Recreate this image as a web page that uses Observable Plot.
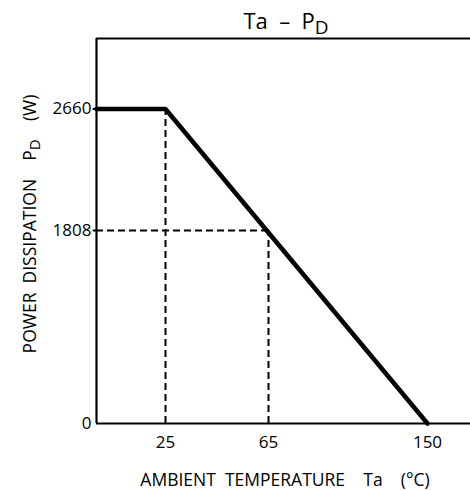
<!DOCTYPE html>
<html>
<head>
<meta charset="utf-8">
<script src="https://cdn.jsdelivr.net/npm/d3@7"></script>
<script src="https://cdn.jsdelivr.net/npm/@observablehq/plot@0.6"></script>
<style>
  html, body { margin: 0; padding: 0; background: #fff; }
  svg text { font-family: "Open Sans", "DejaVu Sans", sans-serif; }
</style>
</head>
<body>
<div id="chart"></div>
<script>
// Data
const xTicks = [25, 65, 150];
const yTicks = [0, 1808, 2660];
const curveTa = [0, 25, 150];
const curvePd = [2660, 2660, 0];
const refTa = [25, 65];
const refPd = [2660, 1808];
const xDomainEdges = [0, 175];
const yDomainTop = 3200;

const curve = curveTa.map((t, i) => ({t, p: curvePd[i]}));

const plot = Plot.plot({
  width: 470,
  height: 491,
  marginLeft: 96, marginTop: 38, marginRight: 0, marginBottom: 68,
  style: {fontFamily: '"Open Sans", "DejaVu Sans", sans-serif', fontSize: "17px", color: "#000"},
  x: {type: "linear", domain: [xDomainEdges[0], 25, 65, 150, xDomainEdges[1]], range: [96, 165, 268, 427, 470], axis: null},
  y: {type: "linear", domain: [0, 1808, 2660, yDomainTop], range: [423, 230, 108.5, 38], axis: null},
  marks: [
    // dashed reference lines
    Plot.ruleX(refTa, {x: d => d, y1: 0, y2: (d, i) => refPd[i], stroke: "#000", strokeWidth: 2, strokeDasharray: "7,4"}),
    Plot.ruleY([refPd[1]], {y: d => d, x1: xDomainEdges[0], x2: refTa[1], stroke: "#000", strokeWidth: 2, strokeDasharray: "7,4"}),
    // frame
    Plot.ruleY([0], {x1: xDomainEdges[0], x2: xDomainEdges[1], stroke: "#000", strokeWidth: 2.2}),
    Plot.ruleY([yDomainTop], {x1: xDomainEdges[0], x2: xDomainEdges[1], stroke: "#000", strokeWidth: 2.2}),
    Plot.ruleX([xDomainEdges[0]], {y1: 0, y2: yDomainTop, stroke: "#000", strokeWidth: 2.2}),
    // small y ticks
    Plot.ruleY(yTicks.slice(1), {y: d => d, x1: -1.2, x2: xDomainEdges[0], stroke: "#000", strokeWidth: 2}),
    // tick labels
    Plot.text(xTicks, {x: d => d, y: 0, text: d => String(d), dy: 19, fontSize: 17, fill: "#000", textAnchor: "middle"}),
    Plot.text(yTicks, {x: xDomainEdges[0], y: d => d, text: d => String(d), dx: -5, fontSize: 17, fill: "#000", textAnchor: "end"}),
    // derating curve
    Plot.line(curve, {x: "t", y: "p", stroke: "#000", strokeWidth: 4.5, strokeLinejoin: "miter"})
  ]
});

const svg = d3.select(plot);

// Title
const title = svg.append("text")
  .attr("x", 286).attr("y", 29)
  .attr("text-anchor", "middle")
  .style("font-size", "22px")
  .attr("fill", "#000")
  .style("white-space", "pre");
title.append("tspan").text("Ta  –  P");
title.append("tspan").attr("dy", 5).style("font-size", "19px").text("D");

// X label
svg.append("text")
  .attr("x", 285).attr("y", 486)
  .attr("text-anchor", "middle")
  .style("font-size", "17.5px")
  .attr("fill", "#000")
  .style("white-space", "pre")
  .text("AMBIENT  TEMPERATURE    Ta    (°C)");

// Y label
const yl = svg.append("text")
  .attr("transform", "translate(36,224) rotate(-90)")
  .attr("text-anchor", "middle")
  .style("font-size", "17.5px")
  .attr("fill", "#000")
  .style("white-space", "pre");
yl.append("tspan").text("POWER  DISSIPATION    P");
yl.append("tspan").attr("dy", 4).style("font-size", "15px").text("D");
yl.append("tspan").attr("dy", -4).text("    (W)");

document.getElementById("chart").appendChild(plot);
</script>
</body>
</html>
